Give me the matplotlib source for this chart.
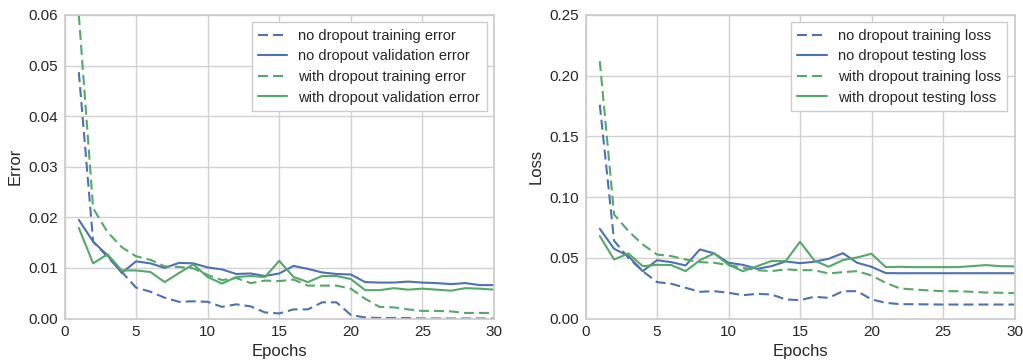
import matplotlib
matplotlib.use("Agg")
import matplotlib.pyplot as plt
import seaborn as sns
import numpy as np

sns.set_style("whitegrid")
plt.rcParams['font.family'] = ['Liberation Sans', 'DejaVu Sans']

epochs = np.arange(1, 31)

# error curves (left)
err_train_nodrop = [0.0487, 0.0152, 0.0122, 0.0092, 0.0061, 0.0053, 0.0041, 0.0033, 0.0034, 0.0033,
                    0.0023, 0.0028, 0.0024, 0.0012, 0.0010, 0.0018, 0.0018, 0.0032, 0.0032, 0.0007,
                    0.0002, 0.0001, 0.0001, 0.0001, 0.0000, 0.0000, 0.0000, 0.0000, 0.0000, 0.0000]
err_val_nodrop = [0.0195, 0.0152, 0.0125, 0.0090, 0.0113, 0.0109, 0.0100, 0.0110, 0.0109, 0.0101,
                  0.0097, 0.0088, 0.0089, 0.0084, 0.0089, 0.0104, 0.0098, 0.0091, 0.0088, 0.0087,
                  0.0072, 0.0071, 0.0071, 0.0073, 0.0071, 0.0070, 0.0068, 0.0070, 0.0066, 0.0066]
err_train_drop = [0.0600, 0.0218, 0.0171, 0.0141, 0.0123, 0.0116, 0.0103, 0.0102, 0.0099, 0.0086,
                  0.0076, 0.0080, 0.0070, 0.0075, 0.0074, 0.0077, 0.0065, 0.0065, 0.0065, 0.0059,
                  0.0039, 0.0023, 0.0022, 0.0018, 0.0015, 0.0015, 0.0014, 0.0011, 0.0011, 0.0011]
err_val_drop = [0.0179, 0.0109, 0.0127, 0.0095, 0.0095, 0.0092, 0.0072, 0.0090, 0.0107, 0.0082,
                0.0069, 0.0082, 0.0084, 0.0082, 0.0114, 0.0082, 0.0072, 0.0084, 0.0084, 0.0078,
                0.0056, 0.0056, 0.0060, 0.0057, 0.0059, 0.0057, 0.0055, 0.0060, 0.0059, 0.0057]

# loss curves (right)
loss_train_nodrop = [0.176, 0.064, 0.050, 0.039, 0.030, 0.0286, 0.0253, 0.022, 0.0225, 0.0212,
                     0.0192, 0.0203, 0.0198, 0.0157, 0.0151, 0.0179, 0.0170, 0.0225, 0.0225, 0.0157,
                     0.0129, 0.0118, 0.0118, 0.0116, 0.0115, 0.0115, 0.0115, 0.0115, 0.0115, 0.0115]
loss_test_nodrop = [0.0739, 0.0574, 0.0514, 0.0390, 0.0480, 0.0464, 0.0437, 0.0569, 0.0536, 0.0459,
                    0.0442, 0.0409, 0.0431, 0.0470, 0.0456, 0.0467, 0.0492, 0.0538, 0.0459, 0.0426,
                    0.0374, 0.0373, 0.0373, 0.0373, 0.0373, 0.0373, 0.0373, 0.0373, 0.0373, 0.0373]
loss_train_drop = [0.212, 0.0857, 0.072, 0.061, 0.0527, 0.0514, 0.0486, 0.0464, 0.0459, 0.0440,
                   0.0418, 0.0398, 0.0390, 0.0405, 0.0398, 0.0398, 0.0371, 0.0382, 0.0390, 0.0354,
                   0.0294, 0.0247, 0.0239, 0.0231, 0.0225, 0.0225, 0.0220, 0.0214, 0.0212, 0.0209]
loss_test_drop = [0.0679, 0.0486, 0.0536, 0.0431, 0.0442, 0.0440, 0.0390, 0.0480, 0.0536, 0.0442,
                  0.0390, 0.0431, 0.0473, 0.0473, 0.0632, 0.0478, 0.0426, 0.0481, 0.0503, 0.0533,
                  0.0423, 0.0426, 0.0423, 0.0423, 0.0423, 0.0423, 0.0431, 0.0440, 0.0431, 0.0429]

blue = '#4C72B0'
green = '#55A868'
dash = (4.8, 2.4)

fig = plt.figure(figsize=(10.23, 3.6), dpi=100)
ax1 = fig.add_axes([64.5/1023, 41.5/360, 429.5/1023, 303.5/360])
ax2 = fig.add_axes([585.5/1023, 41.5/360, 429/1023, 303.5/360])

ax1.plot(epochs, err_train_nodrop, '--', dashes=dash, color=blue, lw=1.5, label='no dropout training error')
ax1.plot(epochs, err_val_nodrop, '-', color=blue, lw=1.5, label='no dropout validation error')
ax1.plot(epochs, err_train_drop, '--', dashes=dash, color=green, lw=1.5, label='with dropout training error')
ax1.plot(epochs, err_val_drop, '-', color=green, lw=1.5, label='with dropout validation error')
ax1.set_xlim(0, 30)
ax1.set_ylim(0, 0.06)
ax1.set_ylabel('Error', fontsize=12)
ax1.set_yticks(np.arange(0, 0.061, 0.01))
ax1.set_yticklabels(['%.2f' % v for v in np.arange(0, 0.061, 0.01)])

ax2.plot(epochs, loss_train_nodrop, '--', dashes=dash, color=blue, lw=1.5, label='no dropout training loss')
ax2.plot(epochs, loss_test_nodrop, '-', color=blue, lw=1.5, label='no dropout testing loss')
ax2.plot(epochs, loss_train_drop, '--', dashes=dash, color=green, lw=1.5, label='with dropout training loss')
ax2.plot(epochs, loss_test_drop, '-', color=green, lw=1.5, label='with dropout testing loss')
ax2.set_xlim(0, 30)
ax2.set_ylim(0, 0.25)
ax2.set_ylabel('Loss', fontsize=12)
ax2.set_yticks(np.arange(0, 0.251, 0.05))
ax2.set_yticklabels(['%.2f' % v for v in np.arange(0, 0.251, 0.05)])

for ax in (ax1, ax2):
    ax.set_xlabel('Epochs', fontsize=12, labelpad=3)
    ax.set_xticks([0, 5, 10, 15, 20, 25, 30])
    ax.tick_params(labelsize=11, colors='0.15', length=0, pad=5)
    for s in ax.spines.values():
        s.set_color('0.8')
        s.set_linewidth(1.25)
    ax.grid(color='0.82', linewidth=1.0)
    leg = ax.legend(loc='upper right', fontsize=10.5, frameon=True, fancybox=False,
                    borderaxespad=0.5, handlelength=2.0, handletextpad=0.75,
                    labelspacing=0.45, borderpad=0.45)
    leg.get_frame().set_edgecolor('0.8')
    leg.get_frame().set_facecolor('white')
    leg.get_frame().set_alpha(1)

fig.savefig('out.png', dpi=100)
